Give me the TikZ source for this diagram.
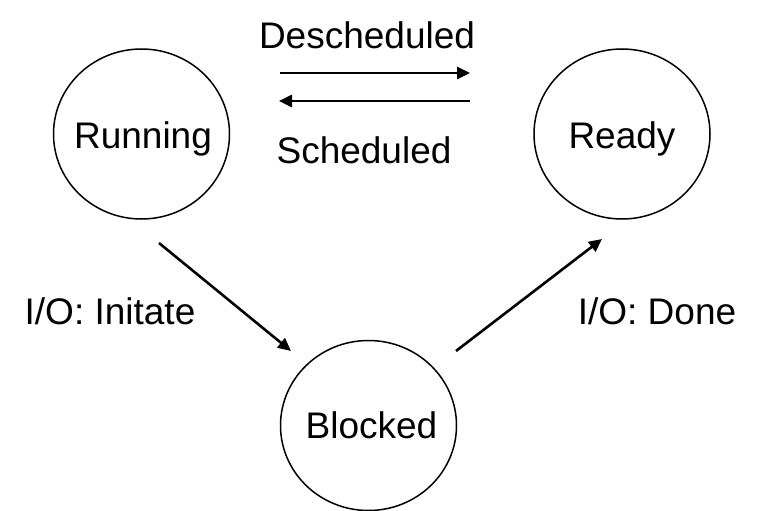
\documentclass[tikz,border=0pt]{standalone}
\usepackage{fontspec}
\setmainfont{Liberation Sans}
\usetikzlibrary{shapes.geometric,arrows.meta}
\begin{document}
\begin{tikzpicture}[x=1pt,y=-1pt,
  state/.style={draw,line width=1.5pt,ellipse,minimum width=176pt,minimum height=170pt,inner sep=0pt},
  lbl/.style={inner sep=0pt,font=\fontsize{37}{44}\selectfont,text height=26.5pt,text depth=0pt},
  conn/.style={line width=2.6pt,-{Triangle[length=13pt,width=12pt]}}]
\useasboundingbox (0,0) rectangle (760,511);
\node[state,label={[lbl,xshift=1.5pt,yshift=-1pt]center:Running}] (running) at (141.5,134) {};
\node[state,label={[lbl,yshift=-1pt]center:Ready}] (ready) at (622,134) {};
\node[state,label={[lbl,xshift=3pt]center:Blocked}] (blocked) at (368.5,425.5) {};
\node[lbl] (ldes) at (367,35.5) {Descheduled};
\node[lbl] (lsch) at (364,150) {Scheduled};
\node[lbl] (lini) at (110,311.5) {I/O: Initate};
\node[lbl] (ldone) at (657,311.5) {I/O: Done};
\coordinate (a1) at (280,73);
\coordinate (a2) at (470,73);
\coordinate (b1) at (470,101);
\coordinate (b2) at (279,101);
\coordinate (c1) at (159,243);
\coordinate (c2) at (291,351);
\coordinate (e1) at (456,351);
\coordinate (e2) at (602,239);
\draw[conn] (a1) -- (a2);
\draw[conn] (b1) -- (b2);
\draw[conn] (c1) -- (c2);
\draw[conn] (e1) -- (e2);
\end{tikzpicture}
\end{document}
